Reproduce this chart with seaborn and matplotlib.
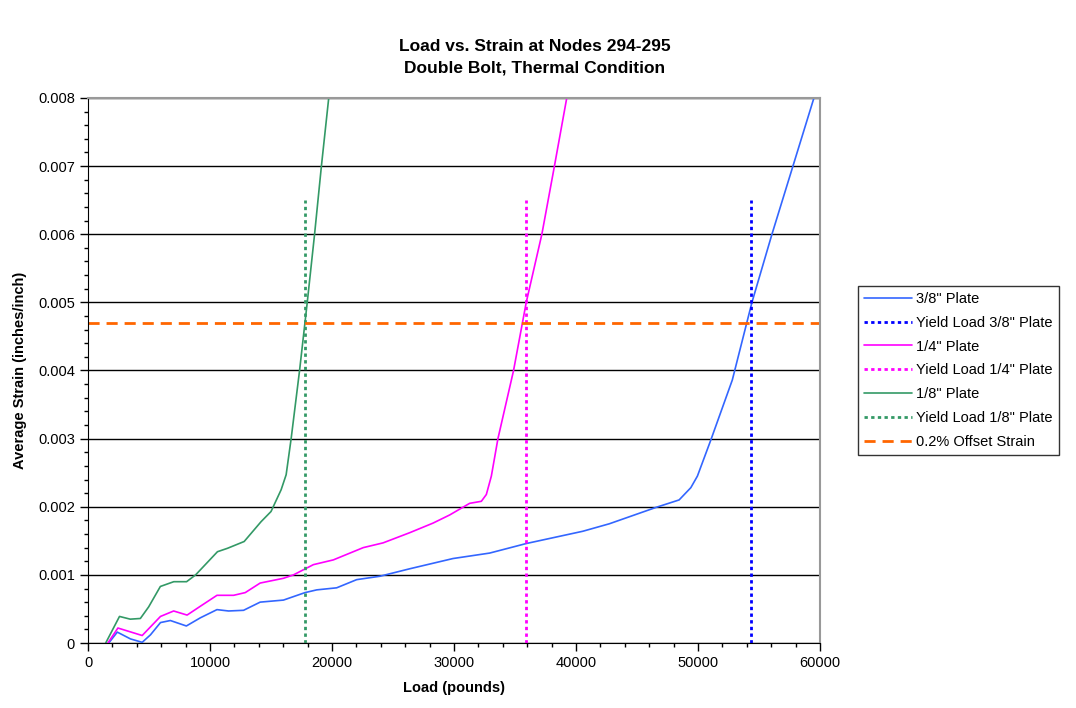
import numpy as np
import pandas as pd
import seaborn as sns
import matplotlib.pyplot as plt
from matplotlib.ticker import MultipleLocator

# values
load_38 = [1700, 2400, 3480, 4440, 5120, 5940, 6750, 8060, 9210, 10570, 11520, 12750,
           14110, 16020, 17790, 18750, 20380, 22020, 23930, 26380, 29920, 32920, 35920,
           40550, 42730, 46550, 48450, 49410, 49950, 51050, 52810, 54420, 56060, 57780, 59500]
strain_38 = [0.0, 0.00016, 0.00006, 0.00001, 0.00012, 0.0003, 0.00033, 0.00025, 0.00037,
             0.00049, 0.00047, 0.00048, 0.0006, 0.00063, 0.00074, 0.00078, 0.00081, 0.00093,
             0.00098, 0.00109, 0.00124, 0.00132, 0.00146, 0.00164, 0.00175, 0.00199, 0.0021,
             0.00228, 0.00245, 0.00298, 0.00386, 0.005, 0.006, 0.007, 0.008]

load_14 = [1630, 2450, 4440, 5940, 7020, 8120, 9210, 10570, 11930, 12890, 14110, 16020,
           16840, 18470, 20110, 22560, 24190, 26380, 28280, 29650, 31280, 32240, 32650,
           33060, 33600, 34880, 35920, 37200, 38230, 39240]
strain_14 = [0.0, 0.00022, 0.00011, 0.00039, 0.00047, 0.00041, 0.00054, 0.0007, 0.0007,
             0.00074, 0.00088, 0.00095, 0.001, 0.00115, 0.00122, 0.0014, 0.00147, 0.00162,
             0.00176, 0.00188, 0.00205, 0.00208, 0.00218, 0.00245, 0.003, 0.004, 0.005,
             0.006, 0.007, 0.008]

load_18 = [1450, 2580, 3460, 4290, 4970, 5930, 7030, 8080, 8820, 10610, 11430, 12800,
           14180, 15000, 15830, 16240, 16650, 17340, 17970, 18570, 19130, 19730]
strain_18 = [0.0, 0.00039, 0.00035, 0.00036, 0.00053, 0.00083, 0.0009, 0.0009, 0.001,
             0.00134, 0.00139, 0.00149, 0.00178, 0.00193, 0.00225, 0.00247, 0.003, 0.004,
             0.005, 0.006, 0.007, 0.008]

yield_loads = [54320, 35860, 17800]
yield_top = 0.0065
offset_strain = 0.0047

plates = ['3/8" Plate', '1/4" Plate', '1/8" Plate']
colors = ['#3366ff', '#ff00ff', '#339966']
yield_colors = ['#0000ff', '#ff00ff', '#339966']

sns.set_style('white')
plt.rcParams['font.family'] = ['Liberation Sans', 'DejaVu Sans']
plt.rcParams['text.color'] = 'black'
plt.rcParams['axes.labelcolor'] = 'black'
plt.rcParams['xtick.color'] = 'black'
plt.rcParams['ytick.color'] = 'black'

fig = plt.figure(figsize=(10.76, 7.08), dpi=100)
ax = fig.add_axes([0.0818, 0.0918, 0.6803, 0.7698])

curves = [(load_38, strain_38), (load_14, strain_14), (load_18, strain_18)]
for i, (lx, sy) in enumerate(curves):
    df = pd.DataFrame({'load': lx, 'strain': sy})
    sns.lineplot(data=df, x='load', y='strain', ax=ax, color=colors[i], lw=1.2,
                 estimator=None, sort=False, label=plates[i])
    ax.plot([yield_loads[i], yield_loads[i]], [0, yield_top], color=yield_colors[i],
            lw=2, linestyle=(0, (1.2, 1.2)), label='Yield Load ' + plates[i])

ax.axhline(offset_strain, color='#ff6600', lw=2, linestyle=(0, (4, 2.5)),
           label='0.2% Offset Strain')

ax.set_xlim(0, 60000)
ax.set_ylim(0, 0.008)
ax.xaxis.set_major_locator(MultipleLocator(10000))
ax.xaxis.set_minor_locator(MultipleLocator(2000))
ax.yaxis.set_major_locator(MultipleLocator(0.001))
ax.yaxis.set_minor_locator(MultipleLocator(0.0002))
ax.set_yticklabels(['0' if v == 0 else f'{v:.3f}' for v in ax.get_yticks()])
ax.tick_params(which='major', direction='out', length=6, width=1, color='black',
               labelsize=10.5, left=True, bottom=True)
ax.tick_params(which='minor', direction='out', length=3, width=1, color='black',
               left=True, bottom=True)
ax.grid(axis='y', which='major', color='black', lw=1)
ax.set_axisbelow(True)
for s in ['left', 'bottom']:
    ax.spines[s].set_color('black')
for s in ['top', 'right']:
    ax.spines[s].set_color('#999999')
    ax.spines[s].set_linewidth(1.5)

ax.set_xlabel('Load (pounds)', fontsize=10.5, fontweight='bold', labelpad=8)
ax.set_ylabel('Average Strain (inches/inch)', fontsize=10.5, fontweight='bold', labelpad=8)
fig.suptitle('Load vs. Strain at Nodes 294-295\nDouble Bolt, Thermal Condition',
             x=0.497, y=0.945, fontsize=12.5, fontweight='bold', linespacing=1.55)

leg = ax.legend(loc='center left', bbox_to_anchor=(1.052, 0.5), fontsize=10.5,
                frameon=True, fancybox=False, handlelength=3.3, handletextpad=0.3,
                borderpad=0.4, labelspacing=0.68, borderaxespad=0)
leg.get_frame().set_edgecolor('black')
leg.get_frame().set_linewidth(1)

fig.savefig('out.png', dpi=100)
